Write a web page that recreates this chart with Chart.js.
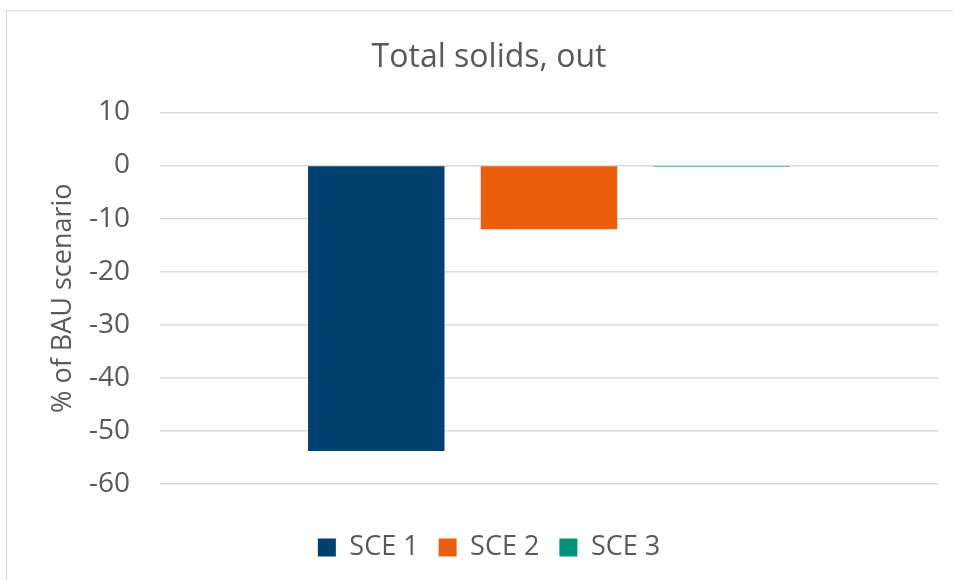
<!DOCTYPE html>
<html>
<head>
<meta charset="utf-8">
<script src="https://cdn.jsdelivr.net/npm/chart.js@4"></script>
<style>
  body { margin: 0; background: #fff; }
  #frame { position: absolute; left: 6px; top: 10px; width: 1000px; height: 700px; border: 1.5px solid #d9d9d9; }
  #wrap { position: absolute; left: 0; top: 0; width: 953px; height: 580px; }
</style>
</head>
<body>
<div id="frame"></div>
<div id="wrap"><canvas id="chart"></canvas></div>
<script>
// data
const categories = [''];
const seriesNames = ['SCE 1', 'SCE 2', 'SCE 3'];
const seriesValues = [[-53.8], [-12.0], [-0.25]];
const seriesColors = ['#00406F', '#EA5E0E', '#00957A'];
const yTicks = [10, 0, -10, -20, -30, -40, -50, -60];

const textColor = '#595959';
const font = "'Open Sans', sans-serif";

new Chart(document.getElementById('chart').getContext('2d'), {
    type: 'bar',
    data: {
        labels: categories,
        datasets: seriesNames.map((name, i) => ({
            label: name,
            data: seriesValues[i],
            backgroundColor: seriesColors[i],
            borderWidth: 0,
            barPercentage: 0.79,
            categoryPercentage: 0.666
        }))
    },
    options: {
        responsive: true,
        maintainAspectRatio: false,
        animation: false,
        // left padding shifts title + legend centre like the original
        layout: { padding: { top: 39, right: 15, bottom: 9, left: 40 } },
        plugins: {
            title: {
                display: true,
                text: 'Total solids, out',
                color: textColor,
                font: { family: font, size: 32, weight: 'normal' },
                padding: { top: 0, bottom: 35 }
            },
            legend: {
                position: 'bottom',
                labels: {
                    color: textColor,
                    font: { family: font, size: 27 },
                    boxWidth: 18,
                    boxHeight: 18,
                    padding: 20
                }
            },
            tooltip: { enabled: false }
        },
        scales: {
            x: {
                grid: { display: false },
                border: { display: false },
                ticks: { display: false },
                afterFit: s => { s.height = 30; }
            },
            y: {
                min: Math.min(...yTicks),
                max: Math.max(...yTicks),
                afterBuildTicks: s => { s.ticks = yTicks.map(v => ({ value: v })); },
                afterFit: s => { s.width = 120; },
                grid: { color: '#d9d9d9', lineWidth: 1.5, drawTicks: false },
                border: { display: false },
                ticks: {
                    color: textColor,
                    font: { family: font, size: 28 },
                    padding: 30
                },
                title: {
                    display: true,
                    text: '% of BAU scenario',
                    color: textColor,
                    font: { family: font, size: 27 },
                    padding: { top: 7, bottom: 0 }
                }
            }
        }
    }
});
</script>
</body>
</html>
